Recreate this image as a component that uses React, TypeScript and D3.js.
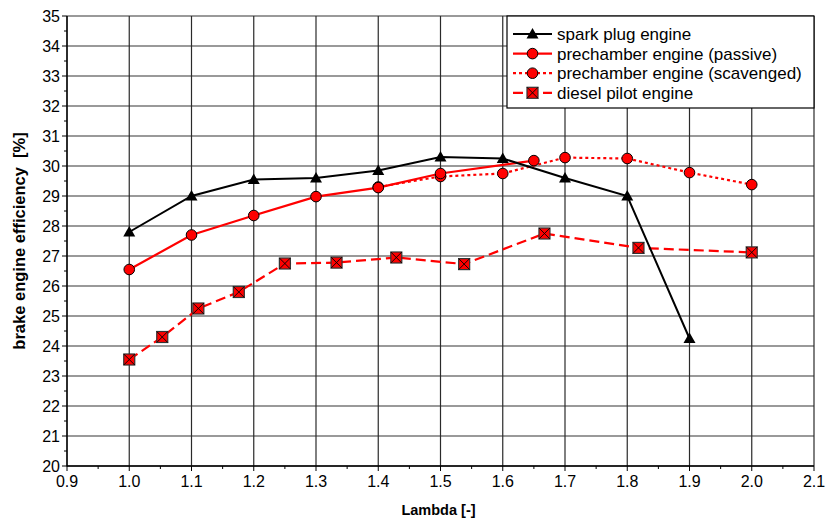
import React from "react";
import * as d3 from "d3";

const sparkLambda = [1.0, 1.1, 1.2, 1.3, 1.4, 1.5, 1.6, 1.7, 1.8, 1.9];
const sparkEff = [27.8, 29.0, 29.55, 29.6, 29.85, 30.3, 30.25, 29.6, 29.0, 24.25];

const passiveLambda = [1.0, 1.1, 1.2, 1.3, 1.4, 1.5, 1.65];
const passiveEff = [26.55, 27.7, 28.35, 28.98, 29.28, 29.75, 30.18];

const scavLambda = [1.4, 1.5, 1.6, 1.7, 1.8, 1.9, 2.0];
const scavEff = [29.3, 29.65, 29.75, 30.28, 30.25, 29.78, 29.38];

const dieselLambda = [1.0, 1.053, 1.111, 1.176, 1.25, 1.333, 1.429, 1.538, 1.667, 1.818, 2.0];
const dieselEff = [23.55, 24.3, 25.25, 25.8, 26.75, 26.78, 26.95, 26.73, 27.75, 27.27, 27.12];

const xTicks = [0.9, 1.0, 1.1, 1.2, 1.3, 1.4, 1.5, 1.6, 1.7, 1.8, 1.9, 2.0, 2.1];
const yTicks = [20, 21, 22, 23, 24, 25, 26, 27, 28, 29, 30, 31, 32, 33, 34, 35];

const legendLabels = [
  "spark plug engine",
  "prechamber engine (passive)",
  "prechamber engine (scavenged)",
  "diesel pilot engine",
];

const W = 826, H = 523;
const left = 67, right = 814, top = 16, bottom = 466;
const font = "'Liberation Sans', Arial, sans-serif";

const x = d3.scaleLinear().domain([0.9, 2.1]).range([left, right]);
const y = d3.scaleLinear().domain([20, 35]).range([bottom, top]);

type Pt = [number, number];
const zip = (a: number[], b: number[]): Pt[] => a.map((v, i) => [v, b[i]]);

const line = d3.line<Pt>().x(d => x(d[0])).y(d => y(d[1]));

function Triangle({ cx, cy }: { cx: number; cy: number }) {
  const s = 6;
  return <path d={`M${cx},${cy - s} L${cx + s},${cy + s * 0.75} L${cx - s},${cy + s * 0.75} Z`} fill="#000" />;
}

function Circle({ cx, cy }: { cx: number; cy: number }) {
  return <circle cx={cx} cy={cy} r={5.3} fill="#ff0000" stroke="#000" strokeWidth={1} />;
}

function XSquare({ cx, cy }: { cx: number; cy: number }) {
  const s = 5.5;
  return (
    <g>
      <rect x={cx - s} y={cy - s} width={2 * s} height={2 * s} fill="#ff0000" stroke="#333" strokeWidth={1.2} />
      <path d={`M${cx - s},${cy - s} L${cx + s},${cy + s} M${cx + s},${cy - s} L${cx - s},${cy + s}`} stroke="#000" strokeWidth={0.9} />
    </g>
  );
}

export default function App() {
  const spark = zip(sparkLambda, sparkEff);
  const passive = zip(passiveLambda, passiveEff);
  const scav = zip(scavLambda, scavEff);
  const diesel = zip(dieselLambda, dieselEff);

  const minorY = d3.range(20.5, 35, 1);
  const minorX = d3.range(0.95, 2.1, 0.1);

  const lgX = 507, lgY = 16, lgW = 307, lgH = 92;
  const rowY = (i: number) => lgY + 18 + i * 19.6;

  return (
    <svg width={W} height={H} style={{ position: "absolute", left: 0, top: 0 }} fontFamily={font}>
      <rect width={W} height={H} fill="#fff" />
      {/* grid */}
      {yTicks.map(t => (
        <line key={"gy" + t} x1={left} x2={right} y1={y(t)} y2={y(t)} stroke="#777" strokeWidth={1.5} />
      ))}
      {xTicks.map(t => (
        <line key={"gx" + t} x1={x(t)} x2={x(t)} y1={top} y2={bottom} stroke="#2a2a2a" strokeWidth={1.2} />
      ))}
      {/* axes */}
      <line x1={left} x2={left} y1={top} y2={bottom + 0.5} stroke="#000" strokeWidth={1.3} />
      <line x1={left} x2={right} y1={bottom} y2={bottom} stroke="#000" strokeWidth={1.3} />
      {yTicks.map(t => (
        <line key={"ty" + t} x1={left - 5} x2={left} y1={y(t)} y2={y(t)} stroke="#000" strokeWidth={1} />
      ))}
      {minorY.map(t => (
        <line key={"my" + t} x1={left - 3} x2={left} y1={y(t)} y2={y(t)} stroke="#000" strokeWidth={1} />
      ))}
      {xTicks.map(t => (
        <line key={"tx" + t} x1={x(t)} x2={x(t)} y1={bottom} y2={bottom + 5} stroke="#000" strokeWidth={1} />
      ))}
      {minorX.map(t => (
        <line key={"mx" + t} x1={x(t)} x2={x(t)} y1={bottom} y2={bottom + 3} stroke="#000" strokeWidth={1} />
      ))}
      {yTicks.map(t => (
        <text key={"ly" + t} x={left - 7} y={y(t)} dy="0.36em" textAnchor="end" fontSize={16}>{t}</text>
      ))}
      {xTicks.map(t => (
        <text key={"lx" + t} x={x(t)} y={bottom + 21} textAnchor="middle" fontSize={16}>{t.toFixed(1)}</text>
      ))}
      <text x={(left + right) / 2 - 2} y={515} textAnchor="middle" fontSize={14.5} fontWeight="bold">Lambda [-]</text>
      <text transform={`translate(25,${(top + bottom) / 2}) rotate(-90)`} textAnchor="middle" fontSize={16.5} fontWeight="bold" style={{ whiteSpace: "pre" }}>
        {"brake engine efficiency  [%]"}
      </text>

      {/* series */}
      <path d={line(scav) || ""} fill="none" stroke="#ff0000" strokeWidth={2.2} strokeDasharray="3,3" />
      <path d={line(passive) || ""} fill="none" stroke="#ff0000" strokeWidth={2.2} />
      <path d={line(diesel) || ""} fill="none" stroke="#ff0000" strokeWidth={2.2} strokeDasharray="10,5" />
      <path d={line(spark) || ""} fill="none" stroke="#000" strokeWidth={2} />
      {scav.map((d, i) => <Circle key={"s" + i} cx={x(d[0])} cy={y(d[1])} />)}
      {passive.map((d, i) => <Circle key={"p" + i} cx={x(d[0])} cy={y(d[1])} />)}
      {diesel.map((d, i) => <XSquare key={"d" + i} cx={x(d[0])} cy={y(d[1])} />)}
      {spark.map((d, i) => <Triangle key={"t" + i} cx={x(d[0])} cy={y(d[1])} />)}

      {/* legend */}
      <rect x={lgX} y={lgY} width={lgW} height={lgH} fill="#fff" stroke="#000" strokeWidth={1.2} />
      {legendLabels.map((lab, i) => {
        const ly = rowY(i);
        const x1 = lgX + 6, x2 = lgX + 45, mx = (x1 + x2) / 2;
        const stroke = i === 0 ? "#000" : "#ff0000";
        const dash = i === 2 ? "3,3" : i === 3 ? "10,5" : undefined;
        return (
          <g key={lab}>
            <line x1={x1} x2={x2} y1={ly} y2={ly} stroke={stroke} strokeWidth={2.2} strokeDasharray={dash} />
            {i === 0 && <Triangle cx={mx} cy={ly} />}
            {(i === 1 || i === 2) && <Circle cx={mx} cy={ly} />}
            {i === 3 && <XSquare cx={mx} cy={ly} />}
            <text x={lgX + 50} y={ly} dy="0.36em" fontSize={17}>{lab}</text>
          </g>
        );
      })}
    </svg>
  );
}
